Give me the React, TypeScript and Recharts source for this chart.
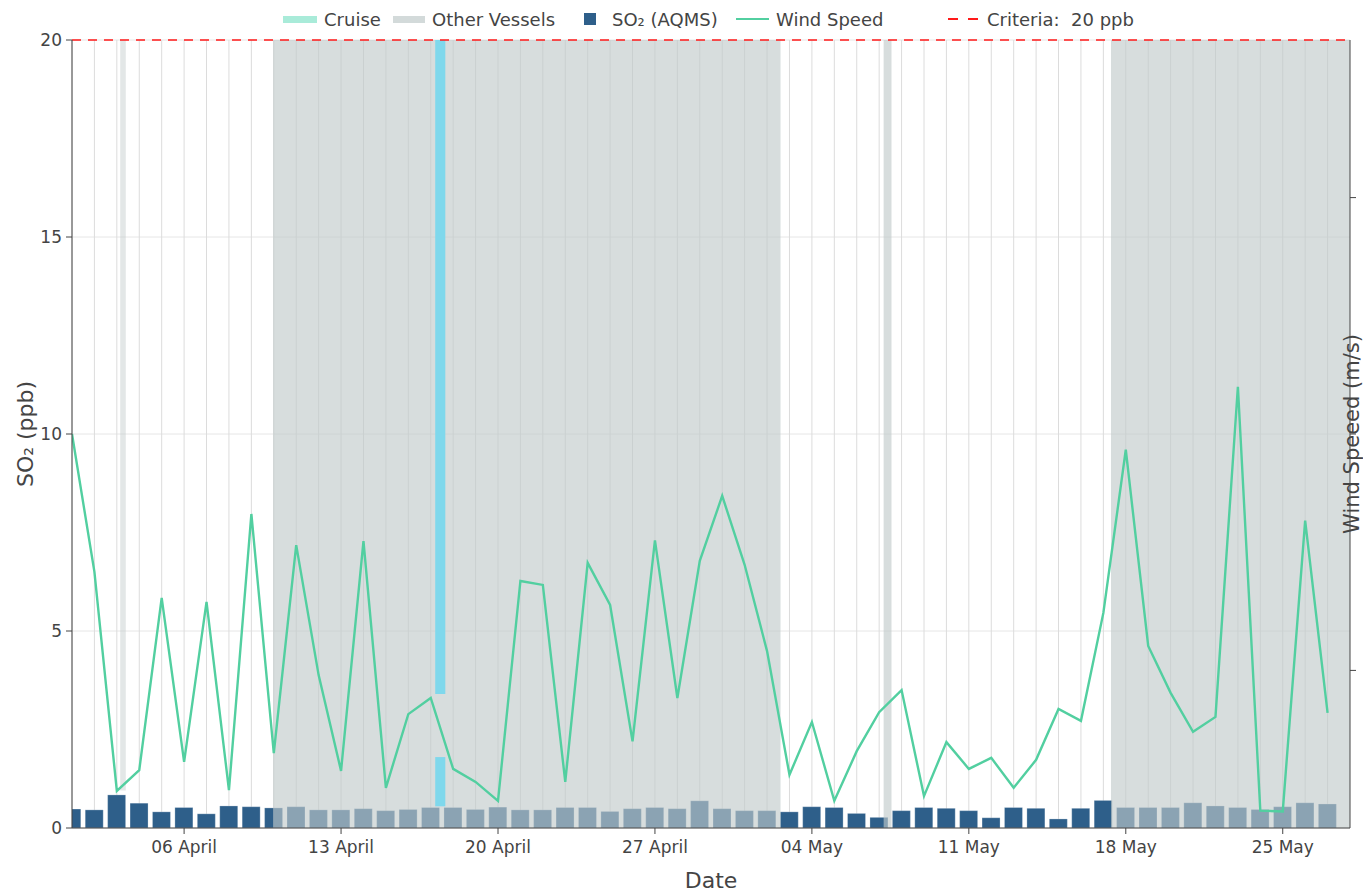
import React from 'react';
import {
  ComposedChart,
  Bar,
  Line,
  XAxis,
  YAxis,
  CartesianGrid,
  ReferenceArea,
  ReferenceLine,
  Label,
} from 'recharts';

// day 0 = 01 April, day 56 = 27 May
const so2 = [
  0.48, 0.46, 0.84, 0.63, 0.41, 0.52, 0.36, 0.56, 0.54, 0.51,
  0.54, 0.46, 0.46, 0.49, 0.44, 0.47, 0.52, 0.52, 0.47, 0.53,
  0.46, 0.46, 0.52, 0.52, 0.42, 0.49, 0.52, 0.49, 0.69, 0.49,
  0.44, 0.44, 0.41, 0.54, 0.52, 0.37, 0.27, 0.44, 0.52, 0.5,
  0.44, 0.26, 0.52, 0.5, 0.23, 0.5, 0.7, 0.52, 0.52, 0.52,
  0.64, 0.56, 0.52, 0.47, 0.54, 0.64, 0.61,
];

const windSpeed = [
  10.0, 6.5, 0.94, 1.47, 5.84, 1.68, 5.74, 0.96, 7.97, 1.9,
  7.18, 3.88, 1.45, 7.28, 1.02, 2.89, 3.3, 1.5, 1.17, 0.69,
  6.27, 6.17, 1.17, 6.73, 5.66, 2.2, 7.3, 3.3, 6.78, 8.43,
  6.68, 4.49, 1.35, 2.69, 0.69, 1.95, 2.94, 3.5, 0.81, 2.18,
  1.5, 1.78, 1.02, 1.73, 3.02, 2.72, 5.46, 9.6, 4.62, 3.43,
  2.44, 2.82, 11.2, 0.44, 0.42, 7.8, 2.92,
];

const tickDays = [5, 12, 19, 26, 33, 40, 47, 54];
const tickLabels = ['06 April', '13 April', '20 April', '27 April', '04 May', '11 May', '18 May', '25 May'];

// vessel presence windows, in days from 01 April: [start, end, bottom]
const otherVessels: [number, number, number][] = [
  [2.15, 2.4, 0.95],
  [8.97, 31.6, 0],
  [36.2, 36.55, 0],
  [46.34, 57, 0],
];
const cruiseDays: [number, number] = [16.2, 16.65];
const cruiseSpans: [number, number][] = [
  [0.55, 1.8],
  [3.4, 20],
];

const criteria = 20;
const so2Ticks = [0, 5, 10, 15, 20];
const windTicks = [4, 10, 16];

const data = so2.map((v, i) => ({ day: i, so2: v, wind: windSpeed[i] }));
const dayLines = so2.map((_, i) => i);

const FONT = '"DejaVu Sans", Verdana, sans-serif';
const INK = '#444';

function TopLegend() {
  const t = { fontFamily: FONT, fontSize: 18, fill: INK };
  return (
    <svg width={1363} height={40} style={{ position: 'absolute', left: 0, top: 0 }}>
      <rect x={283} y={16} width={34} height={7} fill="#a9ebd9" />
      <text x={324} y={26} {...t}>Cruise</text>
      <rect x={393} y={16} width={32} height={7} fill="#d3dada" />
      <text x={432} y={26} {...t}>Other Vessels</text>
      <rect x={584} y={13} width={12} height={12} fill="#2e5f8a" />
      <text x={612} y={26} {...t}>SO₂ (AQMS)</text>
      <line x1={736} x2={769} y1={19} y2={19} stroke="#52cfa0" strokeWidth={2} />
      <text x={776} y={26} {...t}>Wind Speed</text>
      <line x1={948} x2={978} y1={19} y2={19} stroke="#ff1a1a" strokeWidth={2} strokeDasharray="10 10" />
      <text x={987} y={26} {...t} style={{ whiteSpace: 'pre' }}>Criteria:  20 ppb</text>
    </svg>
  );
}

export default function App() {
  return (
    <div style={{ position: 'absolute', left: 0, top: 0, width: 1363, height: 894, background: '#fff', fontFamily: FONT }}>
      <ComposedChart
        width={1363}
        height={894}
        data={data}
        margin={{ top: 40, right: 0, bottom: 0, left: 0 }}
      >
        <CartesianGrid stroke="#e6e6e6" vertical={false} yAxisId="left" />
        {dayLines.map((d) => (
          <ReferenceLine key={d} x={d} yAxisId="left" stroke="#dcdcdc" strokeWidth={1} zIndex={-90} />
        ))}
        <XAxis
          dataKey="day"
          type="number"
          domain={[0, 57]}
          allowDataOverflow
          ticks={tickDays}
          tickFormatter={(v: number) => tickLabels[tickDays.indexOf(v)] ?? ''}
          height={66}
          stroke={INK}
          tickSize={6}
          tickMargin={7}
          tick={{ fill: INK, fontSize: 17, fontFamily: FONT }}
        >
          <Label
            content={(p: any) => (
              <text x={p.viewBox.x + p.viewBox.width / 2} y={p.viewBox.y + 60} textAnchor="middle" fontSize={22} fill={INK} fontFamily={FONT}>
                Date
              </text>
            )}
          />
        </XAxis>
        <YAxis
          yAxisId="left"
          domain={[0, 20]}
          ticks={so2Ticks}
          width={72}
          stroke={INK}
          tickSize={6}
          tickMargin={4}
          tick={{ fill: INK, fontSize: 17, fontFamily: FONT }}
          allowDataOverflow
        >
          <Label
            content={(p: any) => {
              const cx = 25;
              const cy = p.viewBox.y + p.viewBox.height / 2;
              return (
                <text x={cx} y={cy} transform={`rotate(-90 ${cx} ${cy})`} textAnchor="middle" dominantBaseline="central" fontSize={22} fill={INK} fontFamily={FONT}>
                  SO₂ (ppb)
                </text>
              );
            }}
          />
        </YAxis>
        <YAxis
          yAxisId="right"
          orientation="right"
          domain={[0, 20]}
          ticks={windTicks}
          width={13}
          stroke={INK}
          tickSize={6}
          tick={() => <g />}
          allowDataOverflow
        >
          <Label
            content={(p: any) => {
              const cx = p.viewBox.x + 2;
              const cy = p.viewBox.y + p.viewBox.height / 2;
              return (
                <text x={cx} y={cy} transform={`rotate(-90 ${cx} ${cy})`} textAnchor="middle" dominantBaseline="central" fontSize={21} fill={INK} fontFamily={FONT}>
                  Wind Speeed (m/s)
                </text>
              );
            }}
          />
        </YAxis>
        <Bar
          yAxisId="left"
          dataKey="so2"
          barSize={18}
          fill="#2e5f8a"
          stroke="#ffffff"
          strokeOpacity={0.25}
          isAnimationActive={false}
        />
        {otherVessels.map(([a, b, lo], i) => (
          <ReferenceArea
            key={i}
            yAxisId="left"
            x1={a}
            x2={b}
            y1={lo}
            y2={20}
            fill="#c1caca"
            fillOpacity={lo > 0 ? 0.45 : 0.64}
            stroke="none"
            zIndex={350}
          />
        ))}
        {cruiseSpans.map(([lo, hi], i) => (
          <ReferenceArea
            key={'c' + i}
            yAxisId="left"
            x1={cruiseDays[0]}
            x2={cruiseDays[1]}
            y1={lo}
            y2={hi}
            fill="#7fd8ec"
            fillOpacity={1}
            stroke="none"
            zIndex={360}
          />
        ))}
        <Line
          yAxisId="right"
          dataKey="wind"
          type="linear"
          stroke="#52cfa0"
          strokeWidth={2.4}
          dot={false}
          activeDot={false}
          isAnimationActive={false}
        />
        <ReferenceLine
          yAxisId="left"
          y={criteria}
          stroke="#ff1a1a"
          strokeWidth={1.5}
          strokeDasharray="9 7"
          zIndex={450}
        />
      </ComposedChart>
      <TopLegend />
    </div>
  );
}
